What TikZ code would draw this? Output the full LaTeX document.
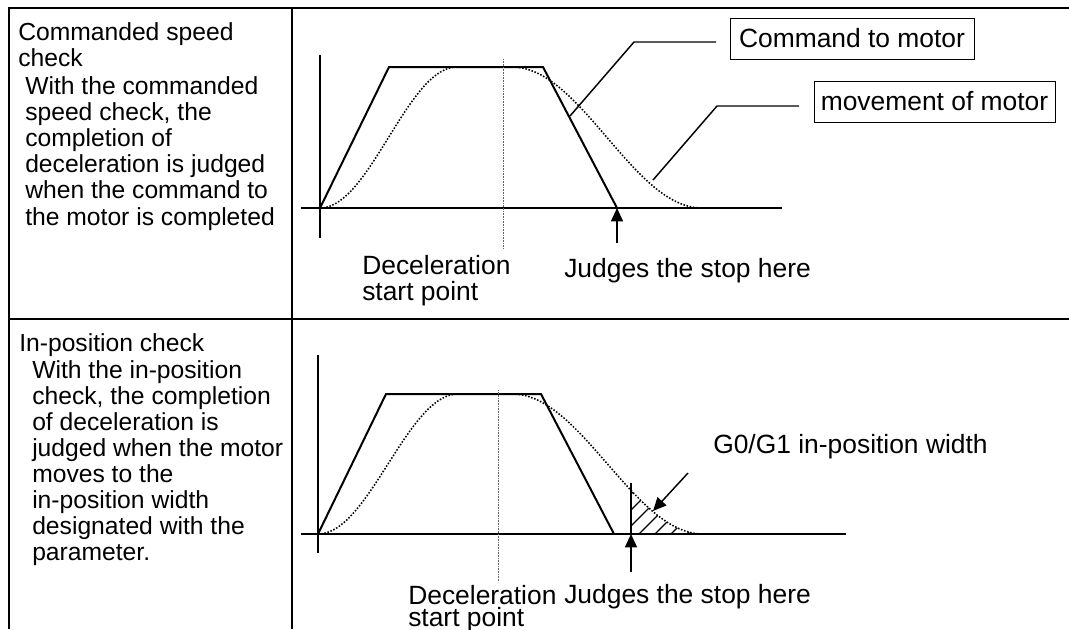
\documentclass[tikz,border=0pt]{standalone}
\usepackage{fontspec}
\setmainfont{Liberation Sans}
\usetikzlibrary{arrows.meta}
\begin{document}
\begin{tikzpicture}[x=0.75pt,y=-0.75pt,
  frame/.style={line width=1.5pt},
  axis/.style={line width=1.2pt},
  cmdline/.style={line width=1.5pt},
  motorline/.style={line width=1.15pt, dash pattern=on 1.15pt off 1.25pt},
  decline/.style={line width=0.6pt, black!60, dash pattern=on 0.6pt off 0.6pt},
  leader/.style={line width=1.1pt},
  hatchline/.style={line width=1pt},
  stoparrow/.style={line width=1.1pt, -{Triangle[length=10pt,width=9pt]}},
  lefttext/.style={anchor=base west, inner sep=0pt, font=\fontsize{18.5}{21}\selectfont},
  labeltext/.style={anchor=base west, inner sep=0pt, font=\fontsize{19.8}{22}\selectfont},
  labelbox/.style={draw, line width=0.75pt, inner sep=0pt, font=\fontsize{19.8}{22}\selectfont, minimum height=30.75pt},
]
\useasboundingbox (0,0) rectangle (1069,629);

% table frame
\draw[frame] (9,629) -- (9,8) -- (1069,8);
\draw[frame] (292,8) -- (292,629);
\draw[frame] (9,319) -- (1069,319);

% left column text, top cell
\node[lefttext] (h1a) at (18,40) {Commanded speed};
\node[lefttext] (h1b) at (18,66) {check};
\node[lefttext] (b1a) at (25,94) {With the commanded};
\node[lefttext] (b1b) at (25,120.2) {speed check, the};
\node[lefttext] (b1c) at (25,146.4) {completion of};
\node[lefttext] (b1d) at (25,172.6) {deceleration is judged};
\node[lefttext] (b1e) at (25,198.8) {when the command to};
\node[lefttext] (b1f) at (25,225) {the motor is completed};

% left column text, bottom cell
\node[lefttext] (h2a) at (19,351) {In-position check};
\node[lefttext] (b2a) at (32,378) {With the in-position};
\node[lefttext] (b2b) at (32,404.1) {check, the completion};
\node[lefttext] (b2c) at (32,430.2) {of deceleration is};
\node[lefttext] (b2d) at (32,456.3) {judged when the motor};
\node[lefttext] (b2e) at (32,482.4) {moves to the};
\node[lefttext] (b2f) at (32,508.5) {in-position width};
\node[lefttext] (b2g) at (32,534.6) {designated with the};
\node[lefttext] (b2h) at (32,560.7) {parameter.};

% ---------------- top graph ----------------
\draw[axis] (320,55) -- (320,238);
\draw[axis] (301,208) -- (782,208);
\draw[motorline] plot[domain=0:1,samples=50] ({320+137*\x},{208-141*(1-cos(180*\x))/2})
  -- (512,67) -- plot[domain=0:1,samples=60] ({512+190*\x},{67+141*(1-cos(180*\x))/2});
\draw[cmdline] (320,208) -- (389,67) -- (543,67) -- (617,208);
\draw[decline] (503,59) -- (503,249);

\coordinate (cmdP) at (570,116);
\coordinate (cmdK) at (634,42);
\coordinate (cmdE) at (716,42);
\draw[leader] (cmdP) -- (cmdK) -- (cmdE);
\node[labelbox, minimum width=183pt] (cmd) at (852,38.5) {Command to motor};

\coordinate (movP) at (653,180);
\coordinate (movK) at (717,106);
\coordinate (movE) at (799,106);
\draw[leader] (movP) -- (movK) -- (movE);
\node[labelbox, minimum width=180.75pt] (mov) at (934.5,101.5) {movement of motor};

\coordinate (stopA) at (617,243);
\coordinate (stopB) at (617,208);
\draw[stoparrow] (stopA) -- (stopB);

\node[labeltext] (dec1a) at (362,274) {Deceleration};
\node[labeltext] (dec1b) at (362,300) {start point};
\node[labeltext] (jud1) at (564,277) {Judges the stop here};

% ---------------- bottom graph ----------------
\draw[axis] (318,355) -- (318,553);
\draw[axis] (301,534) -- (846,534);

\begin{scope}
  \clip (631,534)
    -- plot[domain=0.623:1,samples=30] ({512+191*\x},{394+140*(1-cos(180*\x))/2}) -- cycle;
  \foreach \a in {575,591,607,623,639,655,671,687}
    \draw[hatchline] (\a,534) -- ({\a+90},444);
\end{scope}

\draw[motorline] plot[domain=0:1,samples=50] ({318+140*\x},{534-140*(1-cos(180*\x))/2})
  -- (512,394) -- plot[domain=0:1,samples=60] ({512+191*\x},{394+140*(1-cos(180*\x))/2});
\draw[cmdline] (318,534) -- (386,394) -- (541,394) -- (614,534);
\draw[decline] (498,390) -- (498,582);
\draw[cmdline] (631,483) -- (631,534);

\coordinate (ipA) at (688,473);
\coordinate (ipB) at (653,511);
\draw[stoparrow] (ipA) -- (ipB);

\coordinate (stop2A) at (631,572);
\coordinate (stop2B) at (631,534);
\draw[stoparrow] (stop2A) -- (stop2B);

\node[labeltext] (g0) at (713,453) {G0/G1 in-position width};
\node[labeltext] (dec2a) at (408,604) {Deceleration};
\node[labeltext] (dec2b) at (408,626) {start point};
\node[labeltext] (jud2) at (564,603) {Judges the stop here};
\end{tikzpicture}
\end{document}
